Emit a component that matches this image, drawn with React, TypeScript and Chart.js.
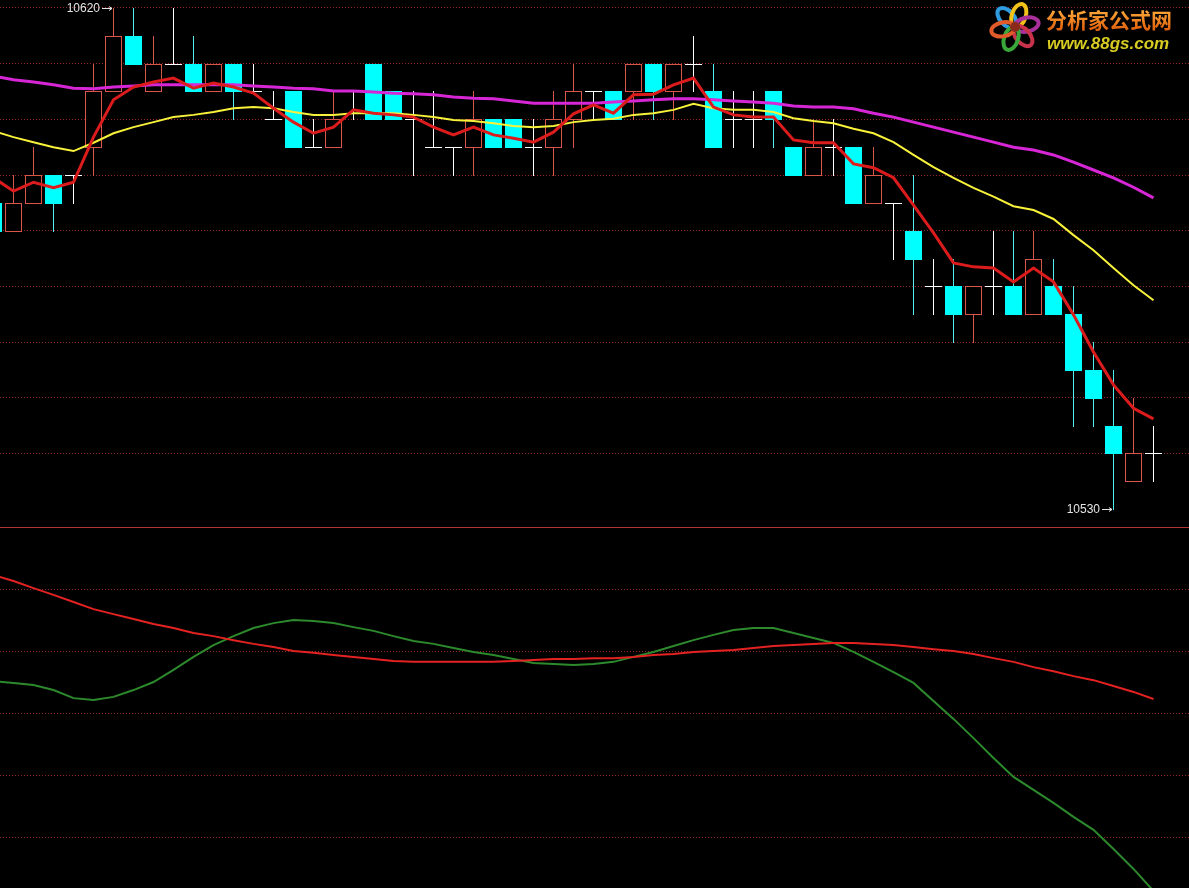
import React, { useEffect, useRef } from "react";
import { Chart, registerables } from "chart.js";

Chart.register(...registerables);

// bar index (category position); -1 is the partially visible leftmost bar
const barIndex = Array.from({ length: 59 }, (_, i) => i - 1);

const opens = [10585, 10580, 10585, 10590, 10590, 10595, 10605, 10615, 10605, 10610, 10610, 10605, 10610, 10605, 10600, 10605, 10595, 10595, 10605, 10610, 10605, 10600, 10595, 10595, 10595, 10600, 10600, 10595, 10595, 10600, 10605, 10605, 10605, 10610, 10605, 10610, 10605, 10600, 10600, 10605, 10595, 10590, 10595, 10595, 10585, 10585, 10580, 10570, 10570, 10565, 10570, 10570, 10565, 10570, 10565, 10555, 10545, 10535, 10540];
const highs = [10585, 10590, 10595, 10590, 10590, 10610, 10620, 10620, 10615, 10620, 10615, 10610, 10610, 10610, 10605, 10605, 10600, 10605, 10605, 10610, 10605, 10605, 10605, 10595, 10605, 10600, 10600, 10600, 10605, 10610, 10605, 10605, 10610, 10610, 10610, 10615, 10610, 10605, 10605, 10605, 10595, 10600, 10600, 10595, 10595, 10585, 10590, 10575, 10575, 10570, 10580, 10580, 10580, 10575, 10570, 10560, 10555, 10550, 10545];
const lows = [10580, 10580, 10585, 10580, 10585, 10590, 10605, 10610, 10605, 10610, 10605, 10605, 10600, 10605, 10600, 10595, 10595, 10595, 10600, 10600, 10600, 10590, 10595, 10590, 10590, 10595, 10595, 10590, 10590, 10595, 10600, 10600, 10600, 10600, 10600, 10605, 10595, 10595, 10595, 10595, 10590, 10590, 10590, 10585, 10585, 10575, 10565, 10565, 10560, 10560, 10565, 10565, 10565, 10565, 10545, 10545, 10530, 10535, 10535];
const closes = [10580, 10585, 10590, 10585, 10590, 10605, 10615, 10610, 10610, 10610, 10605, 10610, 10605, 10605, 10600, 10595, 10595, 10600, 10605, 10600, 10600, 10600, 10595, 10595, 10600, 10595, 10595, 10595, 10600, 10605, 10605, 10600, 10610, 10605, 10610, 10610, 10595, 10600, 10600, 10600, 10590, 10595, 10595, 10585, 10590, 10585, 10575, 10570, 10565, 10570, 10570, 10565, 10575, 10565, 10555, 10550, 10540, 10540, 10540];

// moving averages
const maShort = [10589.5, 10587.1, 10588.7, 10587.7, 10588.7, 10596.8, 10603.5, 10605.8, 10606.7, 10607.4, 10605.6, 10606.5, 10605.8, 10604.7, 10602.0, 10599.5, 10597.5, 10598.6, 10601.7, 10601.1, 10600.8, 10600.4, 10598.6, 10597.2, 10598.6, 10597.2, 10596.6, 10595.9, 10597.7, 10601.0, 10602.6, 10601.1, 10604.4, 10604.5, 10606.2, 10607.4, 10602.2, 10600.8, 10600.4, 10600.4, 10596.3, 10595.8, 10595.8, 10592.0, 10591.3, 10589.5, 10584.6, 10579.6, 10574.2, 10573.5, 10573.3, 10570.8, 10573.3, 10570.8, 10564.9, 10558.2, 10552.3, 10548.1, 10546.2];
const maMid = [10597.9, 10596.8, 10595.9, 10595.0, 10594.3, 10595.8, 10597.5, 10598.6, 10599.5, 10600.4, 10600.8, 10601.3, 10602.0, 10602.2, 10602.0, 10601.3, 10600.8, 10600.8, 10601.1, 10601.1, 10601.1, 10600.8, 10600.4, 10599.9, 10599.7, 10599.3, 10598.8, 10598.6, 10598.8, 10599.5, 10599.9, 10600.1, 10600.8, 10601.1, 10601.7, 10602.8, 10602.0, 10601.7, 10601.7, 10601.3, 10600.2, 10599.7, 10599.3, 10598.3, 10597.5, 10595.9, 10593.6, 10591.4, 10589.5, 10587.7, 10586.1, 10584.4, 10583.7, 10582.1, 10579.2, 10576.5, 10573.3, 10570.2, 10567.5];
const maLong = [10607.8, 10607.1, 10606.7, 10606.2, 10605.6, 10605.5, 10605.8, 10606.0, 10606.2, 10606.2, 10606.2, 10606.2, 10606.2, 10606.0, 10605.8, 10605.6, 10605.5, 10605.1, 10605.1, 10604.9, 10604.7, 10604.6, 10604.4, 10604.0, 10603.8, 10603.7, 10603.3, 10602.9, 10602.9, 10602.9, 10602.9, 10603.1, 10603.3, 10603.5, 10603.7, 10603.7, 10603.5, 10603.3, 10603.1, 10602.9, 10602.4, 10602.2, 10602.2, 10601.9, 10601.1, 10600.4, 10599.5, 10598.6, 10597.7, 10596.8, 10595.9, 10595.0, 10594.5, 10593.6, 10592.3, 10590.9, 10589.5, 10587.8, 10585.9];

// lower panel indicator lines
const indicatorSlow = [44.5, 42.6, 40.3, 38.1, 35.8, 33.5, 31.9, 30.3, 28.7, 27.4, 25.8, 24.8, 23.5, 22.3, 21.3, 20.0, 19.4, 18.7, 18.1, 17.4, 16.8, 16.5, 16.5, 16.5, 16.5, 16.5, 16.8, 17.1, 17.4, 17.4, 17.7, 17.7, 18.1, 18.7, 19.0, 19.7, 20.0, 20.3, 21.0, 21.6, 21.9, 22.3, 22.6, 22.6, 22.3, 21.9, 21.3, 20.6, 20.0, 19.0, 17.7, 16.5, 14.8, 13.5, 11.9, 10.6, 8.7, 6.8, 4.5];
const indicatorFast = [10.3, 9.7, 9.0, 7.4, 4.8, 4.2, 5.2, 7.4, 10.0, 13.9, 18.1, 21.9, 24.8, 27.4, 29.0, 30.0, 29.7, 29.0, 27.7, 26.5, 24.8, 23.2, 22.3, 21.0, 19.7, 18.7, 17.4, 16.1, 15.8, 15.5, 15.8, 16.5, 18.1, 19.7, 21.6, 23.5, 25.2, 26.8, 27.4, 27.4, 25.8, 24.2, 22.6, 19.7, 16.5, 13.2, 9.7, 3.9, -1.9, -8.1, -14.5, -20.6, -24.8, -29.0, -33.5, -37.7, -43.9, -50.3, -57.4];

const priceGridLevels = [10620, 10610, 10600, 10590, 10580, 10570, 10560, 10550, 10540];
const indicatorGridLevels = [40, 20, 0, -20, -40];

const X_MIN = -0.675;
const X_MAX = 58.775;
const PRICE_MIN = 10526.767;
const PRICE_MAX = 10621.437;
const IND_MIN = -56.45;
const IND_MAX = 59.68;

const GRID_COLOR = "#8c2626";

const candlePlugin = {
  id: "candles",
  beforeDatasetsDraw(chart: any) {
    const ctx = chart.ctx;
    const xs = chart.scales.x;
    const ys = chart.scales.y;
    const area = chart.chartArea;
    ctx.save();
    ctx.beginPath();
    ctx.rect(area.left, area.top, area.right - area.left, area.bottom - area.top);
    ctx.clip();
    ctx.lineWidth = 1;
    for (let i = 0; i < barIndex.length; i++) {
      const cx = Math.floor(xs.getPixelForValue(barIndex[i]));
      const o = opens[i], h = highs[i], l = lows[i], c = closes[i];
      const yH = Math.round(ys.getPixelForValue(h));
      const yL = Math.round(ys.getPixelForValue(l));
      const yO = Math.round(ys.getPixelForValue(o));
      const yC = Math.round(ys.getPixelForValue(c));
      const left = cx - 8;
      const w = 17;
      if (o === c) {
        ctx.strokeStyle = "#ffffff";
        ctx.beginPath();
        ctx.moveTo(cx + 0.5, yH);
        ctx.lineTo(cx + 0.5, yL + 1);
        ctx.moveTo(left, yO + 0.5);
        ctx.lineTo(left + w, yO + 0.5);
        ctx.stroke();
      } else if (c > o) {
        const top = yC, bot = yO;
        ctx.strokeStyle = "#d8574a";
        ctx.beginPath();
        if (yH < top) {
          ctx.moveTo(cx + 0.5, yH);
          ctx.lineTo(cx + 0.5, top);
        }
        if (yL > bot) {
          ctx.moveTo(cx + 0.5, bot);
          ctx.lineTo(cx + 0.5, yL + 1);
        }
        ctx.stroke();
        ctx.fillStyle = "#000000";
        ctx.fillRect(left, top, w, bot - top);
        ctx.strokeRect(left + 0.5, top + 0.5, w - 1, bot - top);
      } else {
        const top = yO, bot = yC;
        ctx.strokeStyle = "#54ecec";
        ctx.beginPath();
        ctx.moveTo(cx + 0.5, yH);
        ctx.lineTo(cx + 0.5, yL + 1);
        ctx.stroke();
        ctx.fillStyle = "#00ffff";
        ctx.fillRect(left, top, w, bot - top + 1);
      }
    }
    ctx.restore();
  },
};

function drawMarker(ctx: any, cx: number, y: number, text: string) {
  ctx.save();
  ctx.fillStyle = "#e4e4e4";
  ctx.strokeStyle = "#e4e4e4";
  ctx.font = "12px 'Liberation Sans', Arial, sans-serif";
  ctx.textAlign = "right";
  ctx.textBaseline = "middle";
  ctx.fillText(text, cx - 13, y + 1);
  ctx.lineWidth = 1;
  ctx.beginPath();
  ctx.moveTo(cx - 11, y + 0.5);
  ctx.lineTo(cx - 1, y + 0.5);
  ctx.moveTo(cx - 4, y - 2 + 0.5);
  ctx.lineTo(cx - 1, y + 0.5);
  ctx.lineTo(cx - 4, y + 2 + 0.5);
  ctx.stroke();
  ctx.restore();
}

const overlayPlugin = {
  id: "overlay",
  afterDraw(chart: any) {
    const ctx = chart.ctx;
    const xs = chart.scales.x;
    const ys = chart.scales.y;
    // extreme price markers
    let hiI = 0, loI = 0;
    for (let i = 0; i < barIndex.length; i++) {
      if (barIndex[i] < 0) continue;
      if (highs[i] > highs[hiI] || barIndex[hiI] < 0) hiI = i;
      if (lows[i] < lows[loI] || barIndex[loI] < 0) loI = i;
    }
    const hx = Math.floor(xs.getPixelForValue(barIndex[hiI]));
    const hy = Math.round(ys.getPixelForValue(highs[hiI]));
    drawMarker(ctx, hx, hy, String(highs[hiI]));
    const lx = Math.floor(xs.getPixelForValue(barIndex[loI]));
    const ly = Math.round(ys.getPixelForValue(lows[loI]));
    drawMarker(ctx, lx, ly, String(lows[loI]));

    // watermark logo
    ctx.save();
    const cxl = 1015, cyl = 27;
    const petals = [
      { a: -2.3, c: "#2f9be0" },
      { a: -1.25, c: "#f2c21a" },
      { a: -0.2, c: "#a8309a" },
      { a: 0.85, c: "#c8324a" },
      { a: 1.9, c: "#3aa83a" },
      { a: 2.95, c: "#e05a2a" },
    ];
    for (const p of petals) {
      ctx.save();
      ctx.translate(cxl + Math.cos(p.a) * 12, cyl + Math.sin(p.a) * 12);
      ctx.rotate(p.a);
      ctx.beginPath();
      ctx.ellipse(0, 0, 12, 7, 0, 0, Math.PI * 2);
      ctx.lineWidth = 4;
      ctx.strokeStyle = p.c;
      ctx.stroke();
      ctx.restore();
    }
    ctx.beginPath();
    ctx.arc(cxl, cyl, 5, 0, Math.PI * 2);
    ctx.fillStyle = "#8a2a1a";
    ctx.fill();
    const g = ctx.createLinearGradient(0, 8, 0, 30);
    g.addColorStop(0, "#ffb040");
    g.addColorStop(1, "#e0600c");
    ctx.fillStyle = g;
    ctx.font = "bold 21px 'Noto Sans CJK SC', sans-serif";
    ctx.textAlign = "left";
    ctx.textBaseline = "alphabetic";
    ctx.fillText("分析家公式网", 1046, 28);
    ctx.fillStyle = "#d8cc22";
    ctx.font = "italic bold 17px 'Liberation Sans', Arial, sans-serif";
    ctx.fillText("www.88gs.com", 1047, 49);
    ctx.restore();
  },
};

function gridScale(min: number, max: number, levels: number[]) {
  return {
    type: "linear" as const,
    position: "left" as const,
    min,
    max,
    afterBuildTicks: (axis: any) => {
      axis.ticks = levels.map((v) => ({ value: v }));
    },
    ticks: { display: false },
    grid: { color: GRID_COLOR, lineWidth: 1, drawTicks: false },
    border: { display: false, dash: [1, 2] },
  };
}

const xScale = {
  type: "linear" as const,
  min: X_MIN,
  max: X_MAX,
  display: false,
};

function lineSet(label: string, values: number[], color: string, width: number) {
  return {
    label,
    data: barIndex.map((k, i) => ({ x: k, y: values[i] })),
    borderColor: color,
    borderWidth: width,
    pointRadius: 0,
    tension: 0,
    fill: false,
  };
}

export default function App() {
  const topRef = useRef<HTMLCanvasElement>(null);
  const botRef = useRef<HTMLCanvasElement>(null);

  useEffect(() => {
    const common = {
      responsive: false,
      maintainAspectRatio: false,
      animation: false as const,
      devicePixelRatio: 1,
      layout: { padding: 0 },
      plugins: { legend: { display: false }, tooltip: { enabled: false } },
      events: [],
    };
    const top = new Chart(topRef.current!, {
      type: "line",
      data: {
        datasets: [
          lineSet("MA5", maShort, "#dc1c1c", 3),
          lineSet("MA10", maMid, "#f8f23a", 2),
          lineSet("MA20", maLong, "#d626d6", 3),
        ],
      },
      options: {
        ...common,
        scales: { x: xScale, y: gridScale(PRICE_MIN, PRICE_MAX, priceGridLevels) },
      },
      plugins: [candlePlugin, overlayPlugin],
    } as any);
    const bottom = new Chart(botRef.current!, {
      type: "line",
      data: {
        datasets: [
          lineSet("Slow", indicatorSlow, "#e42222", 2),
          lineSet("Fast", indicatorFast, "#2c8a2c", 2),
        ],
      },
      options: {
        ...common,
        scales: { x: xScale, y: gridScale(IND_MIN, IND_MAX, indicatorGridLevels) },
      },
    } as any);
    return () => {
      top.destroy();
      bottom.destroy();
    };
  }, []);

  return (
    <div style={{ position: "fixed", left: 0, top: 0, width: 1189, height: 888, background: "#000", overflow: "hidden" }}>
      <canvas ref={topRef} width={1189} height={527} style={{ display: "block", width: 1189, height: 527 }} />
      <div style={{ height: 1, background: "#b03434" }} />
      <canvas ref={botRef} width={1189} height={360} style={{ display: "block", width: 1189, height: 360 }} />
    </div>
  );
}
